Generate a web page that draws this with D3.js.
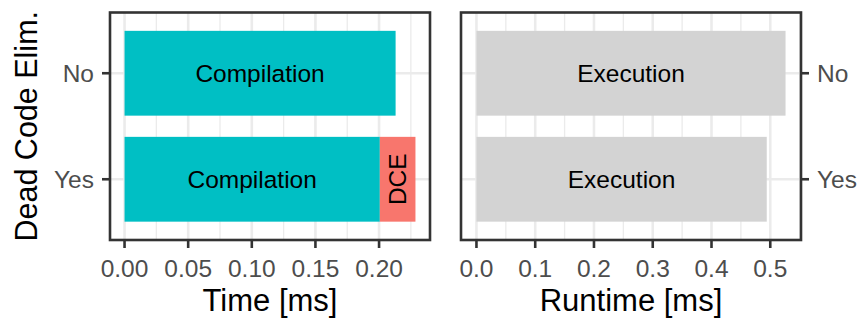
<!DOCTYPE html>
<html>
<head>
<meta charset="utf-8">
<script src="https://cdn.jsdelivr.net/npm/d3@7"></script>
<style>
  html, body { margin: 0; padding: 0; background: #fff; }
  svg { display: block; }
  text { font-family: "Liberation Sans", Arial, Helvetica, sans-serif; }
</style>
</head>
<body>
<svg id="chart" width="860" height="320"></svg>
<script>
// Dead code elimination: compile-time cost vs. runtime
const categories = ["No", "Yes"];
const compilation = [0.213, 0.2006];   // ms
const dce = [0, 0.028];                 // ms
const execution = [0.526, 0.494];       // ms
const timeTicks = [0, 0.05, 0.10, 0.15, 0.20];
const timeTickLabels = ["0.00", "0.05", "0.10", "0.15", "0.20"];
const runtimeTicks = [0, 0.1, 0.2, 0.3, 0.4, 0.5];
const runtimeTickLabels = ["0.0", "0.1", "0.2", "0.3", "0.4", "0.5"];

const svg = d3.select("#chart");
const panelTop = 12.5, panelBottom = 240;
const gridCol = "#ebebeb", frameCol = "#333333", tickTextCol = "#4d4d4d";
const tickFont = 24.5, titleFont = 31, barFont = 24.5;

const y = d3.scalePoint().domain(categories).range([panelTop, panelBottom]).padding(0.573);
const barH = y.step() * 0.8;

// ggplot-style 5% expansion of a continuous domain starting at zero
function expanded(max) { return [-0.05 * max, 1.05 * max]; }

function panel(x0, x1, maxVal, ticks, tickLabels, title, side) {
  const x = d3.scaleLinear().domain(expanded(maxVal)).range([x0, x1]);
  const g = svg.append("g");
  const clip = "clip" + side;
  svg.append("clipPath").attr("id", clip)
    .append("rect").attr("x", x0).attr("y", panelTop).attr("width", x1 - x0).attr("height", panelBottom - panelTop);
  const grid = g.append("g").attr("clip-path", `url(#${clip})`);
  // minor grid at midpoints
  const step = ticks[1] - ticks[0];
  const minors = d3.range(ticks[0] - step / 2, x.domain()[1], step).filter(v => v > x.domain()[0]);
  grid.selectAll(".minor").data(minors).join("line")
    .attr("x1", d => x(d)).attr("x2", d => x(d)).attr("y1", panelTop).attr("y2", panelBottom)
    .attr("stroke", gridCol).attr("stroke-width", 1.3);
  grid.selectAll(".major").data(ticks).join("line")
    .attr("x1", d => x(d)).attr("x2", d => x(d)).attr("y1", panelTop).attr("y2", panelBottom)
    .attr("stroke", gridCol).attr("stroke-width", 2.6);
  grid.selectAll(".hmajor").data(categories).join("line")
    .attr("x1", x0).attr("x2", x1).attr("y1", d => y(d)).attr("y2", d => y(d))
    .attr("stroke", gridCol).attr("stroke-width", 2.6);

  // x axis ticks and labels
  g.selectAll(".xt").data(ticks).join("line")
    .attr("x1", d => x(d)).attr("x2", d => x(d)).attr("y1", panelBottom).attr("y2", panelBottom + 8)
    .attr("stroke", frameCol).attr("stroke-width", 2.6);
  g.selectAll(".xl").data(ticks).join("text")
    .attr("x", d => x(d)).attr("y", 277).attr("text-anchor", "middle")
    .attr("font-size", tickFont).attr("fill", tickTextCol)
    .text((d, i) => tickLabels[i]);
  g.append("text").attr("x", (x0 + x1) / 2).attr("y", 311).attr("text-anchor", "middle")
    .attr("font-size", titleFont).attr("fill", "#000").text(title);

  // y ticks and labels
  const tx = side === "left" ? x0 : x1;
  const dir = side === "left" ? -1 : 1;
  g.selectAll(".yt").data(categories).join("line")
    .attr("x1", tx).attr("x2", tx + dir * 8).attr("y1", d => y(d)).attr("y2", d => y(d))
    .attr("stroke", frameCol).attr("stroke-width", 2.6);
  g.selectAll(".yl").data(categories).join("text")
    .attr("x", tx + dir * 16).attr("y", d => y(d)).attr("dy", "0.36em")
    .attr("text-anchor", side === "left" ? "end" : "start")
    .attr("font-size", tickFont).attr("fill", tickTextCol).text(d => d);

  return { x, g };
}

const totals = categories.map((c, i) => compilation[i] + dce[i]);
const L = panel(110, 430, d3.max(totals), timeTicks, timeTickLabels, "Time [ms]", "left");
const R = panel(461, 801, d3.max(execution), runtimeTicks, runtimeTickLabels, "Runtime [ms]", "right");

// Left panel: compilation + DCE stacked
const compRows = categories.map((c, i) => ({ cat: c, v0: 0, v1: compilation[i] }));
const dceRows = categories.map((c, i) => ({ cat: c, v0: compilation[i], v1: compilation[i] + dce[i] })).filter(d => d.v1 > d.v0);
L.g.selectAll(".comp").data(compRows).join("rect")
  .attr("x", d => L.x(d.v0)).attr("width", d => L.x(d.v1) - L.x(d.v0))
  .attr("y", d => y(d.cat) - barH / 2).attr("height", barH).attr("fill", "#00BFC4");
L.g.selectAll(".dce").data(dceRows).join("rect")
  .attr("x", d => L.x(d.v0)).attr("width", d => L.x(d.v1) - L.x(d.v0))
  .attr("y", d => y(d.cat) - barH / 2).attr("height", barH).attr("fill", "#F8766D");
L.g.selectAll(".compl").data(compRows).join("text")
  .attr("x", d => L.x((d.v0 + d.v1) / 2)).attr("y", d => y(d.cat)).attr("dy", "0.36em")
  .attr("text-anchor", "middle").attr("font-size", barFont).attr("fill", "#000").text("Compilation");
L.g.selectAll(".dcel").data(dceRows).join("text")
  .attr("transform", d => `translate(${L.x((d.v0 + d.v1) / 2)},${y(d.cat)}) rotate(-90)`)
  .attr("dy", "0.36em").attr("text-anchor", "middle").attr("font-size", barFont).attr("fill", "#000").text("DCE");

// Right panel: execution time
const execRows = categories.map((c, i) => ({ cat: c, v: execution[i] }));
R.g.selectAll(".exec").data(execRows).join("rect")
  .attr("x", R.x(0)).attr("width", d => R.x(d.v) - R.x(0))
  .attr("y", d => y(d.cat) - barH / 2).attr("height", barH).attr("fill", "#D3D3D3");
R.g.selectAll(".execl").data(execRows).join("text")
  .attr("x", d => R.x(d.v / 2)).attr("y", d => y(d.cat)).attr("dy", "0.36em")
  .attr("text-anchor", "middle").attr("font-size", barFont).attr("fill", "#000").text("Execution");

// Panel frames
[[110, 430], [461, 801]].forEach(([a, b]) => {
  svg.append("rect").attr("x", a).attr("y", panelTop).attr("width", b - a).attr("height", panelBottom - panelTop)
    .attr("fill", "none").attr("stroke", frameCol).attr("stroke-width", 2.6);
});

// Shared y-axis title
svg.append("text").attr("transform", `translate(37,${(panelTop + panelBottom) / 2}) rotate(-90)`)
  .attr("text-anchor", "middle").attr("font-size", 30.5).attr("fill", "#000").text("Dead Code Elim.");
</script>
</body>
</html>
